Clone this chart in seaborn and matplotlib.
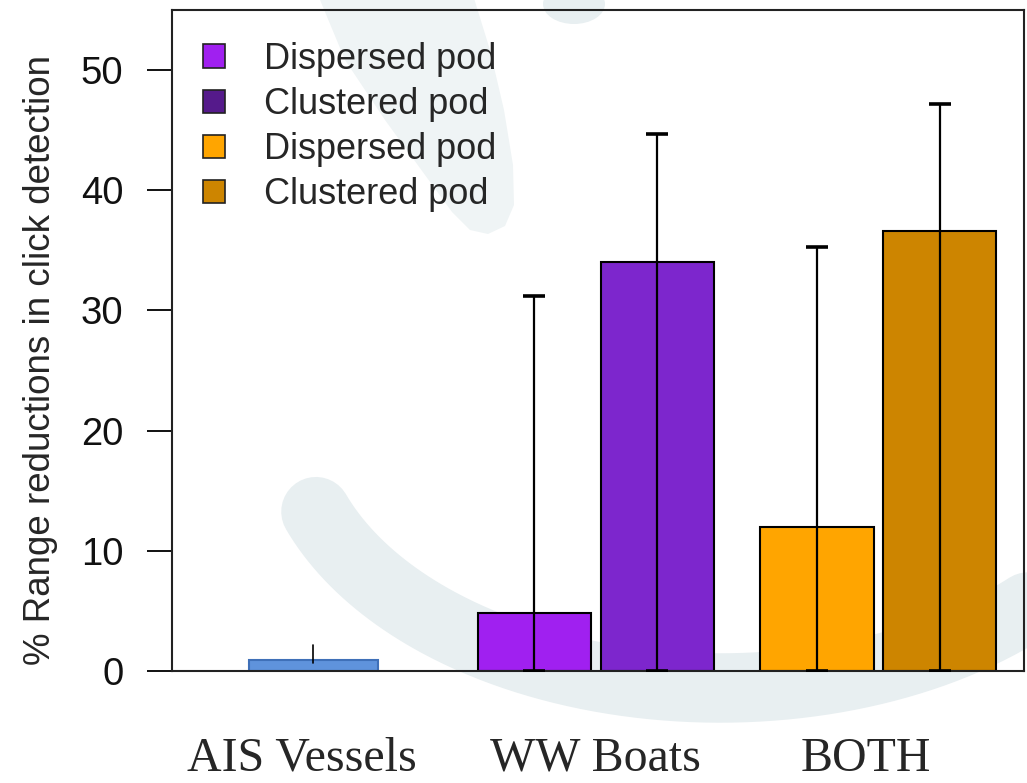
import numpy as np
import pandas as pd
import matplotlib
matplotlib.use("Agg")
import matplotlib.pyplot as plt
from matplotlib.patches import Patch, Polygon, Ellipse
from matplotlib.transforms import ScaledTranslation
import seaborn as sns

# ---- data -------------------------------------------------------------
categories = ["AIS Vessels", "WW Boats", "BOTH"]
pod_types = ["Dispersed pod", "Clustered pod"]

# mean % range reduction and top of the error bar for each pod type
ww_means = [4.8, 34.0]
ww_upper = [31.2, 44.7]
both_means = [12.0, 36.6]
both_upper = [35.3, 47.2]

# AIS vessels: single small bar with a short range marker
ais_mean = 0.9
ais_range = [0.7, 2.15]

ww_colors = ["#A020F0", "#7D26CD"]
both_colors = ["#FFA500", "#CD8500"]
legend_colors = ["#A020F0", "#551A8B", "#FFA500", "#CD8500"]
legend_labels = pod_types + pod_types

# ---- style ------------------------------------------------------------
sns.set_theme(style="white")
plt.rcParams["font.family"] = ["Liberation Sans", "DejaVu Sans"]

W, H = 1027, 783
fig = plt.figure(figsize=(W / 100, H / 100), dpi=100)
fig.patch.set_facecolor("white")

# faint logo watermark behind the chart
bg = fig.add_axes([0, 0, 1, 1], zorder=0)
bg.set_xlim(0, W)
bg.set_ylim(H, 0)
bg.axis("off")
wm = "#e8eff1"
wm_light = "#eff4f5"
t = np.radians(np.linspace(160, 28, 300))
bg.plot(720 + 430 * np.cos(t), 420 + 268 * np.sin(t), color=wm, lw=50,
        solid_capstyle="round")
bg.add_patch(Polygon([(318, -5), (345, 60), (385, 120), (425, 175), (452, 212),
                      (470, 230), (488, 234), (505, 226), (514, 205), (513, 165),
                      (504, 110), (490, 50), (473, -5)],
                     closed=True, color=wm_light, lw=0))
bg.add_patch(Ellipse((574, 4), 62, 40, color=wm, lw=0))

# main chart
ax = fig.add_axes([172 / W, 1 - 671 / H, (1024 - 172) / W, (671 - 10) / H], zorder=1)
ax.set_facecolor("none")

# AIS vessels bar
sns.barplot(x=[categories[0]], y=[ais_mean], order=categories, width=0.456,
            color="#5f93dc", saturation=1, edgecolor="#3f70b8", linewidth=1.5,
            errorbar=None, ax=ax)
ais_bar = ax.containers[-1][0]
ax.plot([ais_bar.get_x() + ais_bar.get_width() / 2] * 2, ais_range,
        color="black", lw=1.2, zorder=5)

# grouped bars for whale-watching boats and both sources
for cat, means, uppers, colors in [("WW Boats", ww_means, ww_upper, ww_colors),
                                   ("BOTH", both_means, both_upper, both_colors)]:
    df = pd.DataFrame({"category": [cat] * len(pod_types),
                       "pod": pod_types, "value": means})
    sns.barplot(data=df, x="category", y="value", hue="pod", order=categories,
                hue_order=pod_types, palette=colors, saturation=1, width=0.87,
                gap=0.08, edgecolor="black", linewidth=1.5, errorbar=None,
                legend=False, ax=ax)
    for cont, mean, up in zip(ax.containers[-2:], means, uppers):
        bar = cont[0]
        xc = bar.get_x() + bar.get_width() / 2
        ax.errorbar(xc, mean, yerr=[[mean], [up - mean]], fmt="none",
                    ecolor="black", elinewidth=1.6, capsize=8, capthick=2.6,
                    zorder=5)

ax.set_xlim(-0.5, 2.515)
ax.set_ylim(0, 55)
ax.set_yticks([0, 10, 20, 30, 40, 50])
ax.tick_params(axis="y", length=18, width=1.4, pad=17, labelsize=27.5,
               colors="#111111", left=True)
ax.tick_params(axis="x", length=0, pad=47.5)
ax.set_xticks(range(len(categories)), categories)
for lbl, dx in zip(ax.get_xticklabels(), [-11, 0, -13]):
    lbl.set_fontfamily(["Liberation Serif", "DejaVu Serif"])
    lbl.set_fontsize(34.5)
    lbl.set_transform(lbl.get_transform() + ScaledTranslation(dx / 100, 0, fig.dpi_scale_trans))
ax.set_xlabel("")
ax.set_ylabel("% Range reductions in click detection", fontsize=26.5)
ax.yaxis.set_label_coords(-0.134, 0.4705)
for sp in ax.spines.values():
    sp.set_visible(True)
    sp.set_color("#222222")
    sp.set_linewidth(1.5)

handles = [Patch(facecolor=c, edgecolor="#222222", linewidth=1.2) for c in legend_colors]
ax.legend(handles, legend_labels, loc="upper left", bbox_to_anchor=(0.036, 0.952),
          frameon=False, fontsize=26, handlelength=0.61, handleheight=0.61,
          handletextpad=1.1, labelspacing=0.28, borderpad=0, borderaxespad=0)

fig.savefig("out.png", dpi=100)
